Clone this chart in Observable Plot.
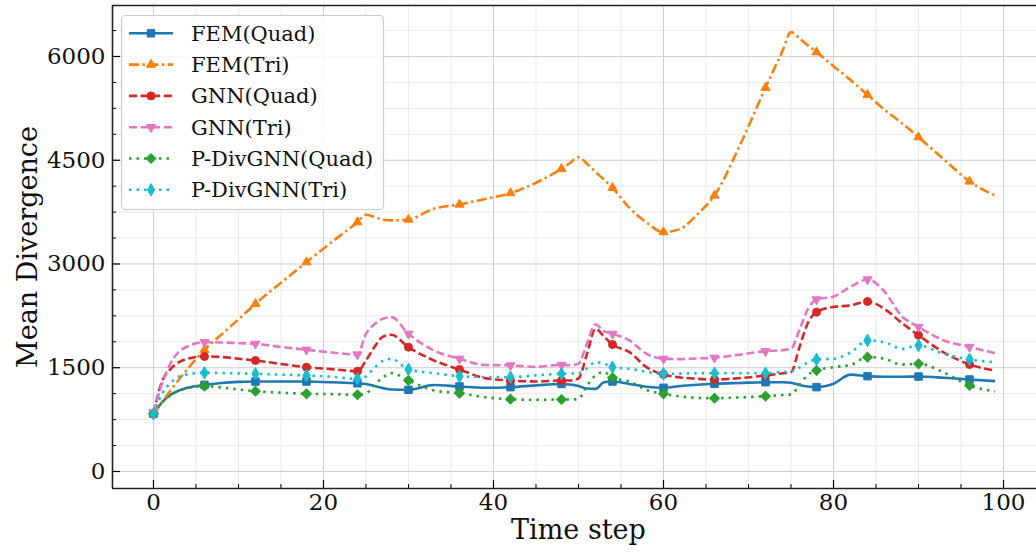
<!DOCTYPE html>
<html><head><meta charset="utf-8">
<script src="https://cdn.jsdelivr.net/npm/d3@7"></script>
<script src="https://cdn.jsdelivr.net/npm/@observablehq/plot@0.6"></script>
<style>
html,body{margin:0;padding:0;background:#fff;}
#wrap{position:relative;width:1036px;height:552px;overflow:hidden;}
#legend{position:absolute;left:0;top:0;pointer-events:none;}
</style></head><body><div id="wrap"></div>
<script>
// ---- data ----
const steps = [0,1,2,3,4,6,8,10,12,15,18,21,24,25,26,27,28,30,33,36,39,42,45,48,49,50,51,52,53,54,56,58,60,62,64,66,69,72,74,75,76,77,78,80,82,84,86,88,90,93,96,99];
const femQuad = [834,1000,1110,1170,1210,1253,1280,1295,1300,1302,1300,1290,1275,1265,1235,1205,1185,1181,1250,1229,1210,1219,1245,1265,1258,1235,1200,1195,1290,1301,1265,1225,1210,1235,1255,1268,1280,1291,1290,1282,1250,1228,1219,1268,1400,1378,1370,1370,1373,1355,1330,1306];
const femTri = [834,1000,1170,1330,1480,1759,1980,2200,2424,2730,3026,3320,3605,3711,3680,3640,3630,3643,3800,3860,3940,4024,4175,4376,4460,4544,4450,4330,4220,4101,3810,3600,3460,3509,3720,3990,4720,5548,6080,6352,6260,6160,6063,5860,5660,5446,5230,5040,4833,4510,4193,3990];
const gnnQuad = [834,1300,1480,1580,1630,1663,1655,1630,1605,1555,1508,1480,1450,1605,1800,1950,1976,1797,1605,1475,1350,1316,1301,1316,1316,1345,1700,2063,1950,1836,1725,1508,1402,1360,1340,1330,1350,1388,1420,1436,1800,2150,2303,2380,2400,2458,2350,2150,1970,1720,1547,1460];
const gnnTri = [857,1270,1560,1730,1807,1870,1865,1855,1846,1800,1760,1720,1690,1991,2130,2210,2231,1991,1749,1629,1540,1533,1515,1540,1535,1560,1850,2125,2030,1991,1894,1701,1629,1625,1635,1644,1690,1739,1755,1774,2050,2350,2487,2530,2670,2776,2600,2250,2090,1894,1800,1711];
const pdivQuad = [834,1000,1100,1170,1205,1234,1215,1185,1161,1140,1123,1118,1109,1130,1250,1360,1421,1316,1171,1132,1074,1045,1036,1041,1041,1051,1240,1390,1436,1355,1300,1180,1123,1084,1065,1060,1070,1089,1105,1115,1250,1400,1460,1508,1540,1653,1630,1545,1557,1430,1243,1157];
const pdivTri = [834,1120,1280,1370,1405,1427,1425,1418,1412,1400,1388,1370,1340,1373,1500,1600,1629,1475,1421,1378,1365,1363,1390,1412,1415,1421,1490,1580,1560,1508,1485,1440,1412,1415,1420,1421,1421,1421,1440,1446,1500,1580,1619,1629,1720,1894,1870,1775,1822,1700,1619,1580];

const seriesNames = ["FEM(Quad)","FEM(Tri)","GNN(Quad)","GNN(Tri)","P-DivGNN(Quad)","P-DivGNN(Tri)"];
const seriesValues = [femQuad, femTri, gnnQuad, gnnTri, pdivQuad, pdivTri];
const markerEvery = 6;

const xMajorTicks = [0,20,40,60,80,100];
const xMinorTicks = [5,10,15,25,30,35,45,50,55,65,70,75,85,90,95];
const yMajorTicks = [0,1500,3000,4500,6000];
const yMinorTicks = [375,750,1125,1875,2250,2625,3375,3750,4125,4875,5250,5625,6375];
const xDomain = [-4.82, 103.88];
const yDomain = [-246, 6737];

// ---- styles ----
const styles = [
  {color:"#1f77b4", dash:null, symbol:"square", r:4.2, rotate:0, d3sym:d3.symbolSquare},
  {color:"#ff7f0e", dash:"10,3.5,2.4,3.5", symbol:"triangle", r:3.4, rotate:0, d3sym:d3.symbolTriangle},
  {color:"#d62728", dash:"8,3.6", symbol:"circle", r:4.0, rotate:0, d3sym:d3.symbolCircle},
  {color:"#e377c2", dash:"8,3.6", symbol:"triangle", r:3.4, rotate:180, d3sym:d3.symbolTriangle},
  {color:"#2ca02c", dash:"2.5,5", symbol:"square", r:3.9, rotate:45, d3sym:d3.symbolSquare},
  {color:"#17becf", dash:"2.5,5", symbol:"diamond", r:3.8, rotate:0, d3sym:d3.symbolDiamond}
];
const FONT = "DejaVu Serif";

// ---- table ----
const rows = [];
seriesNames.forEach((name, i) => {
  steps.forEach((s, j) => rows.push({series: name, step: s, value: seriesValues[i][j]}));
});

const marks = [
  Plot.gridY(yMinorTicks, {stroke:"#ebebeb", strokeOpacity:1, strokeWidth:1}),
  Plot.gridX(xMinorTicks, {stroke:"#ebebeb", strokeOpacity:1, strokeWidth:1}),
  Plot.gridY(yMajorTicks, {stroke:"#cfcfcf", strokeOpacity:1, strokeWidth:1}),
  Plot.gridX(xMajorTicks, {stroke:"#cfcfcf", strokeOpacity:1, strokeWidth:1})
];
seriesNames.forEach((name, i) => {
  const st = styles[i];
  const sub = rows.filter(d => d.series === name);
  marks.push(Plot.line(sub, {x:"step", y:"value", stroke:st.color, strokeWidth:2.6,
    strokeDasharray: st.dash || undefined, curve:"monotone-x", strokeLinecap:"butt", strokeLinejoin:"round"}));
  marks.push(Plot.dot(sub.filter(d => d.step % markerEvery === 0), {x:"step", y:"value",
    symbol: st.symbol, r: st.r, rotate: st.rotate, fill: st.color, stroke: st.color, strokeWidth: 1}));
});
const plain = d => String(d);
marks.push(
  Plot.axisY(yMajorTicks, {anchor:"left", tickSize:0, tickPadding:7, fontSize:23, fill:"#111", label:null, tickFormat: plain}),
  Plot.axisY(yMajorTicks, {anchor:"left", tickSize:-8, tickFormat:() => "", label:null, strokeWidth:1.2}),
  Plot.axisY(yMinorTicks, {anchor:"left", tickSize:-4, tickFormat:() => "", label:null, strokeWidth:1}),
  Plot.axisX(xMajorTicks, {anchor:"bottom", tickSize:0, tickPadding:5, fontSize:23, fill:"#111", label:null, tickFormat: plain}),
  Plot.axisX(xMajorTicks, {anchor:"bottom", tickSize:-8, tickFormat:() => "", label:null, strokeWidth:1.2}),
  Plot.axisX(xMinorTicks, {anchor:"bottom", tickSize:-4, tickFormat:() => "", label:null, strokeWidth:1}),
  Plot.ruleX([xDomain[0]], {stroke:"#222", strokeWidth:1.6}),
  Plot.ruleY([yDomain[0]], {stroke:"#222", strokeWidth:1.6}),
  Plot.ruleY([yDomain[1]], {stroke:"#222", strokeWidth:1.6}),
  Plot.text(["Time step"], {text: d => d, frameAnchor:"bottom", dy:50, dx:4, fontSize:27, fill:"#111", textAnchor:"middle"}),
  Plot.text(["Mean Divergence"], {text: d => d, frameAnchor:"left", dx:-84, rotate:-90, fontSize:27, fill:"#111", textAnchor:"middle"})
);

const chart = Plot.plot({
  width: 1036, height: 552,
  marginLeft: 112, marginRight: 0, marginTop: 5, marginBottom: 64,
  style: {fontFamily: FONT, background: "#fff", overflow: "visible"},
  x: {domain: xDomain, label: null},
  y: {domain: yDomain, label: null},
  marks
});
const wrap = document.getElementById("wrap");
wrap.appendChild(chart);

// ---- legend (overlay) ----
const lg = d3.select(wrap).append("svg").attr("id","legend").attr("width",1036).attr("height",552);
lg.append("rect").attr("x",121.5).attr("y",15.5).attr("width",262).attr("height",194).attr("rx",4)
  .attr("fill","#fff").attr("fill-opacity",0.85).attr("stroke","#cccccc").attr("stroke-width",1.2);
seriesNames.forEach((name, i) => {
  const st = styles[i];
  const y = 33.3 + i * 31.3;
  lg.append("line").attr("x1",129).attr("x2",173).attr("y1",y).attr("y2",y)
    .attr("stroke",st.color).attr("stroke-width",2.6).attr("stroke-dasharray", st.dash || null);
  lg.append("path").attr("d", d3.symbol().type(st.d3sym).size(Math.PI*st.r*st.r)())
    .attr("transform",`translate(151,${y}) rotate(${st.rotate})`)
    .attr("fill",st.color).attr("stroke",st.color).attr("stroke-width",1);
  lg.append("text").attr("x",191).attr("y",y).attr("dy","0.35em")
    .attr("font-family",FONT).attr("font-size",21).attr("fill","#111").text(name);
});
</script></body></html>
